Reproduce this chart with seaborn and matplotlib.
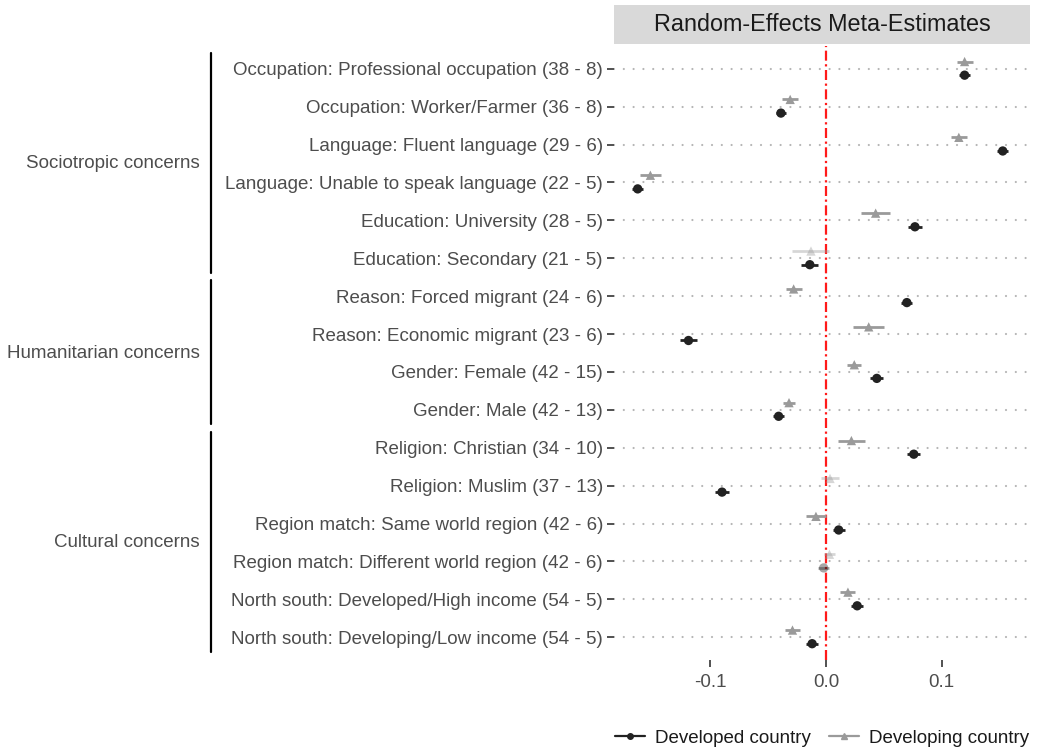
import numpy as np
import pandas as pd
import matplotlib
matplotlib.use("Agg")
import matplotlib.pyplot as plt
import matplotlib.transforms as mtransforms
from matplotlib.lines import Line2D
from matplotlib.patches import Rectangle
import seaborn as sns

# ---------------- data ----------------
labels = [
    "Occupation: Professional occupation (38 - 8)",
    "Occupation: Worker/Farmer (36 - 8)",
    "Language: Fluent language (29 - 6)",
    "Language: Unable to speak language (22 - 5)",
    "Education: University (28 - 5)",
    "Education: Secondary (21 - 5)",
    "Reason: Forced migrant (24 - 6)",
    "Reason: Economic migrant (23 - 6)",
    "Gender: Female (42 - 15)",
    "Gender: Male (42 - 13)",
    "Religion: Christian (34 - 10)",
    "Religion: Muslim (37 - 13)",
    "Region match: Same world region (42 - 6)",
    "Region match: Different world region (42 - 6)",
    "North south: Developed/High income (54 - 5)",
    "North south: Developing/Low income (54 - 5)",
]
group_names = ["Sociotropic concerns", "Humanitarian concerns", "Cultural concerns"]
group_sizes = [6, 4, 6]

countries = ["Developed country", "Developing country"]

dev_est = [0.120, -0.039, 0.153, -0.163, 0.077, -0.014, 0.070, -0.119,
           0.044, -0.041, 0.076, -0.090, 0.011, -0.002, 0.027, -0.012]
dev_half = [0.0045, 0.0045, 0.0048, 0.0048, 0.006, 0.0075, 0.0048, 0.007,
            0.0055, 0.0048, 0.0058, 0.006, 0.0053, 0.0045, 0.0052, 0.0053]
dev_sig = [True] * 13 + [False] + [True, True]

dvg_est = [0.120, -0.031, 0.115, -0.152, 0.043, -0.013, -0.028, 0.037,
           0.0245, -0.032, 0.022, 0.0035, -0.0087, 0.003, 0.019, -0.029]
dvg_half = [0.007, 0.0068, 0.0072, 0.009, 0.0127, 0.016, 0.007, 0.0133,
            0.006, 0.0055, 0.0115, 0.0076, 0.0087, 0.005, 0.0065, 0.0063]
dvg_sig = [True, True, True, True, True, False, True, True,
           True, True, True, False, True, False, True, True]

x_ticks = [-0.1, 0.0, 0.1]
x_tick_labels = ["-0.1", "0.0", "0.1"]
strip_title = "Random-Effects Meta-Estimates"

# ---------------- long table ----------------
rows = []
for i, lab in enumerate(labels):
    rows.append(dict(label=lab, idx=i, country=countries[0], est=dev_est[i],
                     lo=dev_est[i] - dev_half[i], hi=dev_est[i] + dev_half[i], sig=dev_sig[i]))
    rows.append(dict(label=lab, idx=i, country=countries[1], est=dvg_est[i],
                     lo=dvg_est[i] - dvg_half[i], hi=dvg_est[i] + dvg_half[i], sig=dvg_sig[i]))
df = pd.DataFrame(rows)
dodge = {countries[0]: 0.17, countries[1]: -0.19}
df["ypos"] = df["idx"] + df["country"].map(dodge)

palette = {countries[0]: "#222222", countries[1]: "#9a9a9a"}
markers = {countries[0]: "o", countries[1]: "^"}

# ---------------- figure ----------------
sns.set_theme(style="white")
plt.rcParams["font.family"] = ["Liberation Sans", "DejaVu Sans"]
text_col = "#4d4d4d"
fs = 13.5

fig = plt.figure(figsize=(10.38, 7.5), dpi=100)
ax = fig.add_axes([614 / 1038, 1 - 660 / 750, (1030 - 614) / 1038, (660 - 46) / 750])

# dotted horizontal grid
for i in range(len(labels)):
    ax.axhline(i, color="#b5b5b5", lw=1.6, linestyle=(0, (0.01, 4.4)),
               dash_capstyle="round", zorder=0)

# zero line
ax.axvline(0, color="#ff1a1a", lw=1.6, linestyle=(0, (4.5, 1.6, 1.0, 1.6)), zorder=1)

for sig, a in [(True, 1.0), (False, 0.4)]:
    sub = df[df["sig"] == sig]
    for c in countries:
        s = sub[sub["country"] == c]
        ax.hlines(s["ypos"], s["lo"], s["hi"], color=palette[c], alpha=a, lw=2.0, zorder=2)
    sns.scatterplot(data=sub, x="est", y="ypos", hue="country", style="country",
                    palette=palette, markers=markers, hue_order=countries,
                    style_order=countries, s=45, alpha=a, linewidth=0,
                    legend=False, ax=ax, zorder=3)

ax.set_xlim(-0.1835, 0.1766)
ax.set_ylim(len(labels) - 0.4, -0.6)
ax.set_yticks(range(len(labels)))
ax.set_yticklabels(labels)
ax.set_xticks(x_ticks)
ax.set_xticklabels(x_tick_labels)
ax.set_xlabel("")
ax.set_ylabel("")
for sp in ax.spines.values():
    sp.set_visible(False)
ax.tick_params(axis="both", which="both", length=5, width=1.2, color="#333333",
               labelcolor=text_col, labelsize=fs, pad=3)
ax.tick_params(axis="y", left=True)
ax.tick_params(axis="x", bottom=True, pad=5)

# strip header
ax.add_patch(Rectangle((0, 1.003), 1, 0.0635, transform=ax.transAxes,
                       facecolor="#d9d9d9", edgecolor="none", clip_on=False))
ax.text(0.5, 1.003 + 0.0635 / 2, strip_title, transform=ax.transAxes,
        ha="center", va="center", fontsize=16.8, color="#1a1a1a")

# group brackets and labels
trans = mtransforms.blended_transform_factory(fig.transFigure, ax.transData)
start = 0
for name, n in zip(group_names, group_sizes):
    top = start - 0.42
    bot = start + n - 1 + 0.38
    ax.add_line(Line2D([211 / 1038, 211 / 1038], [top, bot], transform=trans,
                       color="black", lw=1.6, clip_on=False))
    ax.text(200 / 1038, (start + start + n - 1) / 2, name, transform=trans,
            ha="right", va="center", fontsize=fs, color=text_col)
    start += n

# legend
handles = [
    Line2D([], [], color=palette[countries[0]], marker="o", markersize=4, lw=1.6),
    Line2D([], [], color=palette[countries[1]], marker="^", markersize=5, lw=1.6),
]
ax.legend(handles, countries, loc="center", bbox_to_anchor=(0.5, -0.127), ncol=2,
          frameon=False, fontsize=fs, handlelength=1.6, handletextpad=0.53,
          columnspacing=0.95, labelcolor="#1a1a1a")

fig.savefig("out.png", dpi=100, facecolor="white")
